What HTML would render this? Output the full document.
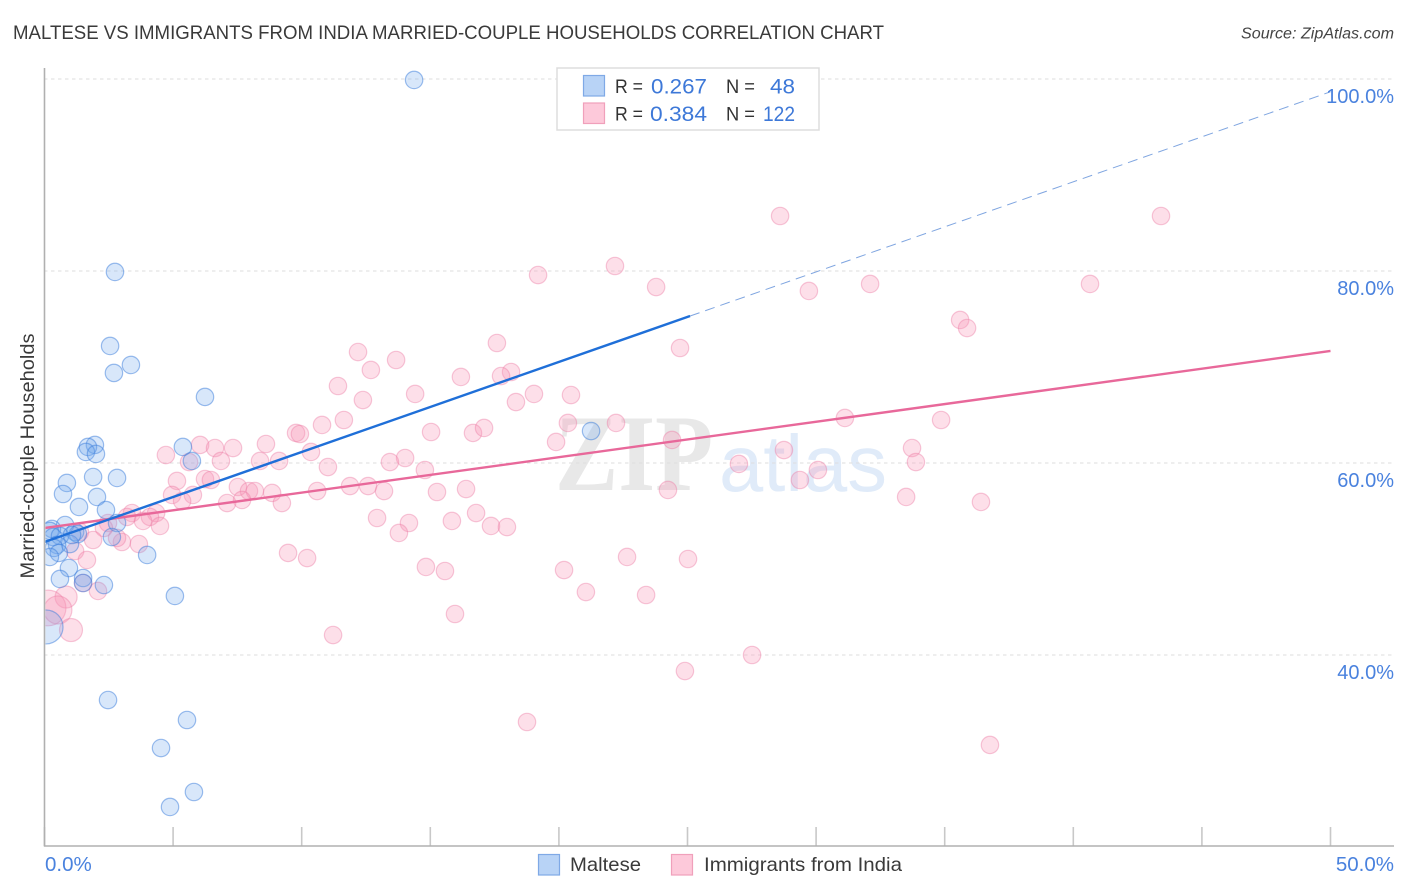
<!DOCTYPE html>
<html lang="en">
<head>
<meta charset="utf-8">
<title>Maltese vs Immigrants from India Married-couple Households Correlation Chart</title>
<style>
html,body{margin:0;padding:0;background:#fff;}
body{width:1406px;height:892px;overflow:hidden;}
svg{display:block;font-family:"Liberation Sans",sans-serif;}
</style>
</head>
<body>
<svg id="chart" width="1406" height="892" viewBox="0 0 1406 892" xmlns="http://www.w3.org/2000/svg">
<defs><clipPath id="plot-clip"><rect x="45.5" y="60" width="1350" height="785"/></clipPath></defs>
<rect width="1406" height="892" fill="#fff"/>
<text x="13" y="39" font-size="19.5" fill="#3a3a3a" textLength="871" lengthAdjust="spacingAndGlyphs">MALTESE VS IMMIGRANTS FROM INDIA MARRIED-COUPLE HOUSEHOLDS CORRELATION CHART</text>
<text x="1241" y="38.5" font-size="15.5" font-style="italic" fill="#444" textLength="153" lengthAdjust="spacingAndGlyphs">Source: ZipAtlas.com</text>
<text x="555" y="490" font-family="'Liberation Serif',serif" font-size="109" font-weight="700" fill="#e8e8e8" textLength="158" lengthAdjust="spacingAndGlyphs">ZIP</text>
<text x="719" y="491" font-size="80" fill="#e0ebf9" textLength="168" lengthAdjust="spacingAndGlyphs">atlas</text>
<g id="grid"></g>
<g id="series-india" clip-path="url(#plot-clip)"></g>
<g id="series-maltese" clip-path="url(#plot-clip)"></g>
<g id="trends" clip-path="url(#plot-clip)"></g>
<g id="axes"></g>
<text transform="translate(34 456) rotate(-90)" font-size="19.5" fill="#3a3a3a" text-anchor="middle" textLength="245" lengthAdjust="spacingAndGlyphs">Married-couple Households</text>
<g>
<rect x="557" y="68" width="262" height="62" fill="#fff" stroke="#ddd" stroke-width="1.5"/>
<rect x="583.5" y="75.5" width="21" height="20.5" fill="#b8d3f6" stroke="#7fa9e6" stroke-width="1.2"/>
<rect x="583.5" y="103" width="21" height="20.5" fill="#fdc9da" stroke="#f0a0bb" stroke-width="1.2"/>
<g font-size="19" fill="#333">
<text x="615" y="93" textLength="28" lengthAdjust="spacingAndGlyphs">R =</text>
<text x="615" y="120.5" textLength="28" lengthAdjust="spacingAndGlyphs">R =</text>
<text x="726" y="93" textLength="29" lengthAdjust="spacingAndGlyphs">N =</text>
<text x="726" y="120.5" textLength="29" lengthAdjust="spacingAndGlyphs">N =</text>
</g>
<g font-size="21" fill="#3d78d8">
<text x="651" y="93.5" textLength="56" lengthAdjust="spacingAndGlyphs">0.267</text>
<text x="650" y="121" textLength="57" lengthAdjust="spacingAndGlyphs">0.384</text>
<text x="770" y="93.5" textLength="25" lengthAdjust="spacingAndGlyphs">48</text>
<text x="763" y="121" textLength="32" lengthAdjust="spacingAndGlyphs">122</text>
</g>
</g>
<g>
<rect x="538.5" y="854.5" width="21" height="20.5" fill="#b8d3f6" stroke="#7fa9e6" stroke-width="1.2"/>
<text x="570" y="871" font-size="19.5" fill="#3a3a3a" textLength="71" lengthAdjust="spacingAndGlyphs">Maltese</text>
<rect x="671.5" y="854.5" width="21" height="20.5" fill="#fdc9da" stroke="#f0a0bb" stroke-width="1.2"/>
<text x="704" y="871" font-size="19.5" fill="#3a3a3a" textLength="198" lengthAdjust="spacingAndGlyphs">Immigrants from India</text>
</g>
</svg>
<script>
const xTickValues = [0, 5, 10, 15, 20, 25, 30, 35, 40, 45, 50];
const yGridValues = [40, 60, 80, 100];
const yTickLabels = ['40.0%', '60.0%', '80.0%', '100.0%'];
const xEndValues = [0, 50];
const xEndLabels = ['0.0%', '50.0%'];

const malteseX = [14.37,2.74,2.55,3.36,2.70,6.24,21.25,1.96,1.69,1.61,2.00,5.38,5.73,1.89,2.82,0.87,0.72,2.04,1.34,2.39,0.80,2.82,0.29,0.21,1.19,1.30,0.99,2.62,0.33,0.60,0.49,0.37,0.56,0.21,3.99,0.95,0.60,1.50,1.50,2.31,5.07,0.06,2.47,5.54,4.53,4.88,5.81,1.07];
const malteseY = [99.9,79.9,72.19,70.21,69.38,66.88,63.33,61.88,61.67,61.15,60.94,61.67,60.21,58.54,58.44,57.92,56.77,56.46,55.42,55.10,53.54,53.75,53.13,52.92,52.81,52.60,51.56,52.29,52.29,52.40,51.46,51.15,50.63,50.21,50.42,49.06,47.92,48.02,47.5,47.29,46.15,42.92,35.31,33.23,30.31,24.17,25.73,52.50];
const malteseWeight = [1,1,1,1,1,1,1,1,1,1,1,1,1,1,1,1,1,1,1,1,1,1,1,1,1,1,1,1,1,1,1,1,1,1,1,1,1,1,1,1,1,3.8,1,1,1,1,1,1];

const indiaX = [4.72,6.05,6.63,7.33,6.86,5.62,5.15,4.96,5.77,5.35,6.24,6.47,7.52,7.95,8.18,7.68,7.10,3.40,3.21,4.34,4.10,3.83,4.49,2.47,2.31,1.38,1.89,3.01,2.82,3.67,1.19,1.65,1.50,2.08,0.84,0.14,0.52,1.03,
28.60,43.41,22.18,19.19,23.78,29.72,32.10,40.65,35.60,35.87,24.71,17.59,12.19,13.67,12.69,18.14,17.75,16.19,11.41,14.41,19.03,20.47,12.38,18.33,11.64,10.79,9.78,9.93,15.03,16.66,17.09,20.35,22.22,31.12,34.86,24.40,33.73,28.75,19.89,8.61,14.02,13.43,33.88,27.00,10.36,9.12,8.38,11.02,14.79,30.07,29.37,11.88,12.58,16.39,13.20,10.60,15.26,24.24,33.50,36.41,8.85,9.23,16.78,12.93,14.17,15.84,17.36,17.98,13.78,9.47,10.21,22.65,25.02,14.83,15.57,20.20,21.05,23.39,15.96,11.22,24.90,27.51,18.76,36.76];
const indiaY = [60.83,61.88,61.56,61.56,60.21,60.10,58.13,56.67,56.67,56.04,58.33,58.23,57.50,57.08,57.08,56.15,55.83,54.79,54.38,54.79,54.38,53.96,53.44,53.75,53.23,52.81,51.98,51.77,52.19,51.56,50.83,49.90,47.50,46.67,46.04,44.90,44.69,42.60,
85.73,85.73,80.52,79.58,78.33,77.92,78.65,78.65,74.90,74.06,71.98,72.50,71.56,70.73,69.69,69.48,69.06,68.96,68.02,67.19,67.19,67.08,66.56,66.35,64.48,63.96,63.13,63.02,63.23,63.13,63.65,64.17,64.17,64.69,64.48,62.40,61.56,61.35,62.19,61.98,60.52,60.10,60.10,59.90,61.15,60.21,60.21,59.58,59.27,59.27,58.23,57.60,57.60,57.29,57.08,57.08,56.98,57.19,56.46,55.94,56.88,55.83,54.79,54.27,53.75,53.96,53.44,53.33,52.71,50.63,50.10,50.21,50.00,49.17,48.75,48.85,46.56,46.25,44.27,42.08,38.33,40.00,33.02,30.63];
const indiaWeight = [1,1,1,1,1,1,1,1,1,1,1,1,1,1,1,1,1,1,1,1,1,1,1,1,1,1,1,1,1,1,1,1,1,1,1.6,4.2,2.6,1.75];

const malteseTrendX = [0, 25.1];
const malteseTrendY = [51.77, 75.31];
const malteseProjectionX = [25.1, 50];
const malteseProjectionY = [75.31, 98.67];
const indiaTrendX = [0, 50];
const indiaTrendY = [53.23, 71.67];

const NS = 'http://www.w3.org/2000/svg';
const xScale = v => 44.5 + v * 25.72;
const yScale = v => 655 - (v - 40) * 9.6;
const BASE_R = 8.7;

function make(tag, attrs, parent) {
  const el = document.createElementNS(NS, tag);
  for (const k in attrs) el.setAttribute(k, attrs[k]);
  parent.appendChild(el);
  return el;
}

const grid = document.getElementById('grid');
yGridValues.forEach((v) => {
  const ln = make('line', {x1: 44, x2: 1394, y1: yScale(v), y2: yScale(v), stroke: '#dedede', 'stroke-width': 1, 'stroke-dasharray': '3.5 3.5'}, grid);
  
  
});

const axes = document.getElementById('axes');
xTickValues.forEach((v) => {
  const t = make('line', {x1: xScale(v), x2: xScale(v), y1: 827, y2: 846, stroke: '#c8c8c8', 'stroke-width': 1.6}, axes);
  
  
});
const yAxis = make('line', {x1: 44.5, x2: 44.5, y1: 68, y2: 846.5, stroke: '#b0b0b0', 'stroke-width': 1.6}, axes);


const xAxis = make('line', {x1: 44, x2: 1394, y1: 846, y2: 846, stroke: '#b0b0b0', 'stroke-width': 1.6}, axes);



yGridValues.forEach((v, i) => {
  const t = make('text', {x: 1394, y: yScale(v) + 24, 'font-size': 20, fill: '#4a82de', 'text-anchor': 'end'}, axes);
  
  
  t.textContent = yTickLabels[i];
});
xEndValues.forEach((v, i) => {
  const t = make('text', {x: i === 0 ? 45 : 1394, y: 871, 'font-size': 20.5, fill: '#4a82de', 'text-anchor': i === 0 ? 'start' : 'end'}, axes);
  
  
  t.textContent = xEndLabels[i];
});

const indiaGroup = document.getElementById('series-india');
indiaX.forEach((x, i) => {
  const w = indiaWeight[i] === undefined ? 1 : indiaWeight[i];
  const c = make('circle', {cx: xScale(x), cy: yScale(indiaY[i]), r: BASE_R * Math.sqrt(w), fill: 'rgba(248,150,182,0.3)', stroke: 'rgba(236,125,165,0.42)', 'stroke-width': 1.2}, indiaGroup);
  
  
});

const malteseGroup = document.getElementById('series-maltese');
malteseX.forEach((x, i) => {
  const c = make('circle', {cx: xScale(x), cy: yScale(malteseY[i]), r: BASE_R * Math.sqrt(malteseWeight[i]), fill: 'rgba(110,165,238,0.27)', stroke: 'rgba(60,125,220,0.5)', 'stroke-width': 1.2}, malteseGroup);
  
  
});

const trends = document.getElementById('trends');
const indiaLine = make('line', {x1: xScale(indiaTrendX[0]), y1: yScale(indiaTrendY[0]), x2: xScale(indiaTrendX[1]), y2: yScale(indiaTrendY[1]), stroke: '#e8689a', 'stroke-width': 2.4}, trends);


const malteseLine = make('line', {x1: xScale(malteseTrendX[0]), y1: yScale(malteseTrendY[0]), x2: xScale(malteseTrendX[1]), y2: yScale(malteseTrendY[1]), stroke: '#1f6fd8', 'stroke-width': 2.4}, trends);


const malteseDash = make('line', {x1: xScale(malteseProjectionX[0]), y1: yScale(malteseProjectionY[0]), x2: xScale(malteseProjectionX[1]), y2: yScale(malteseProjectionY[1]), stroke: '#7fa5e0', 'stroke-width': 1, 'stroke-dasharray': '10 6'}, trends);


</script>
</body>
</html>
